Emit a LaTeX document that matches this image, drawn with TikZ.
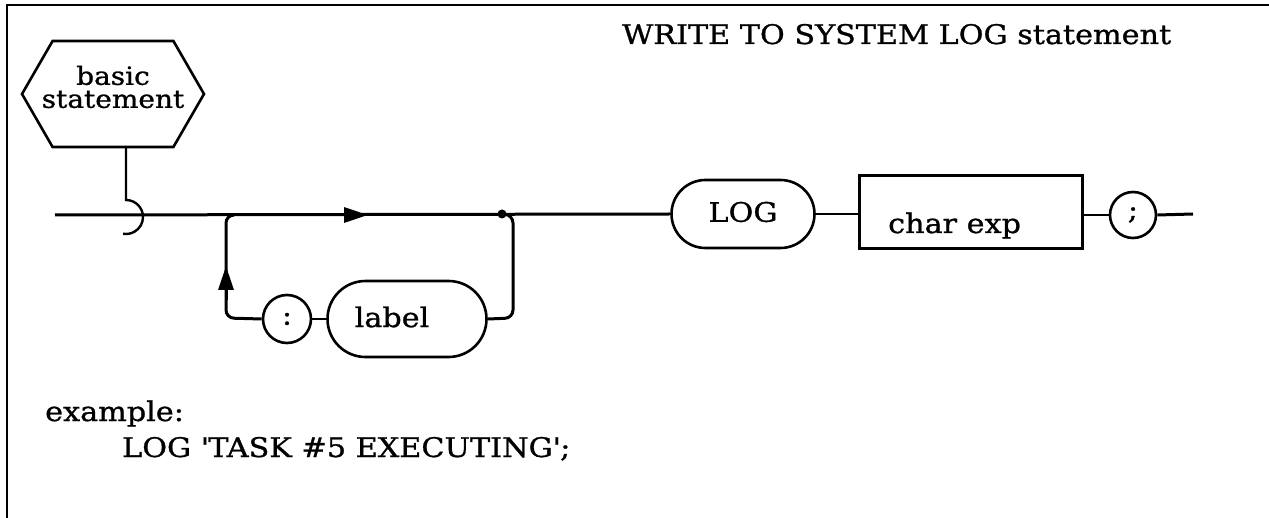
\documentclass[tikz,border=0pt]{standalone}
\usepackage{fontspec}
\setmainfont[FakeStretch=1.12,FakeBold=1]{DejaVu Serif}
\usetikzlibrary{shapes.symbols,shapes.misc,arrows.meta}
\begin{document}
\begin{tikzpicture}[x=1pt,y=-1pt,
  txt/.style={font=\fontsize{27}{27}\selectfont, inner sep=0pt},
  thick line/.style={line width=3pt},
  conn/.style={line width=2.4pt},
  hexbox/.style={draw, line width=2.6pt, signal, signal to=west and east, signal pointer angle=120,
     minimum width=182pt, minimum height=106pt, inner sep=0pt},
  termbox/.style={draw, line width=2.6pt, rounded rectangle, inner sep=0pt},
  circbox/.style={draw, line width=2.6pt, circle, inner sep=0pt, minimum size=46pt, font=\fontsize{27}{27}\selectfont},
  ntbox/.style={draw, line width=2.6pt, rectangle, inner sep=0pt, minimum width=223pt, minimum height=73pt},
  tri/.style={-{Triangle[length=24pt,width=15pt]}}
]
\useasboundingbox (0,0) rectangle (1269,518);
% frame
\draw[line width=2.8pt] (7,518) -- (7,5) -- (1269,5);
% title
\node[txt, anchor=base west] (title) at (622,44) {WRITE TO SYSTEM LOG statement};
% hexagon
\node[hexbox] (hex) at (113,94) {};
\node[txt, align=center, font=\fontsize{25}{23}\selectfont] (hextext) at (113,87) {basic\\statement};
% nodes
\node[termbox, minimum width=143pt, minimum height=68pt] (log) at (743,214) {};
\node[txt] (logt) at (743,212) {LOG};
\node[ntbox] (cexp) at (971,212) {};
\node[txt, anchor=base west] (cexpt) at (888,233) {char exp};
\node[circbox] (semi) at (1133,215) {;};
\node[circbox, minimum size=48pt] (colon) at (287,319) {:};
\node[termbox, minimum width=159pt, minimum height=76pt] (lab) at (407,319) {};
\node[txt] (labt) at (392,317) {label};
% coordinates
\coordinate (start) at (55,215);
\coordinate (arctop) at (126,200);
\coordinate (jl) at (232,215);
\coordinate (jr) at (513,215);
\coordinate (dot) at (502,214);
\coordinate (arr) at (368,215);
\coordinate (endp) at (1193,214);
% hexagon stem and arc
\draw[conn] (126,147) -- (arctop) arc[start angle=90, end angle=-100, radius=17pt];
% main line
\draw[thick line] (start) -- (log.west);
\draw[thick line, tri] (jl) -- (arr);
\fill (dot) circle (4.5pt);
% loop
\draw[thick line, rounded corners=8pt] (jl) -- (226,215) -- (226,318) -- (colon.west);
\draw[thick line, tri] (226,300) -- (226,266);
\draw[conn] (colon.east) -- (lab.west);
\draw[thick line, rounded corners=8pt] (lab.east) -- (513,318) -- (513,215) -- (dot);
% right part
\draw[conn] (log.east) -- (cexp.west |- log.east);
\draw[conn] (cexp.east |- semi.west) -- (semi.west);
\draw[thick line] (semi.east) -- (endp);
% example
\node[txt, anchor=base west] (ex) at (45,421) {example:};
\node[txt, anchor=base west] (exline) at (122,457) {LOG \textquotesingle TASK \#5 EXECUTING\textquotesingle;};
\end{tikzpicture}
\end{document}
